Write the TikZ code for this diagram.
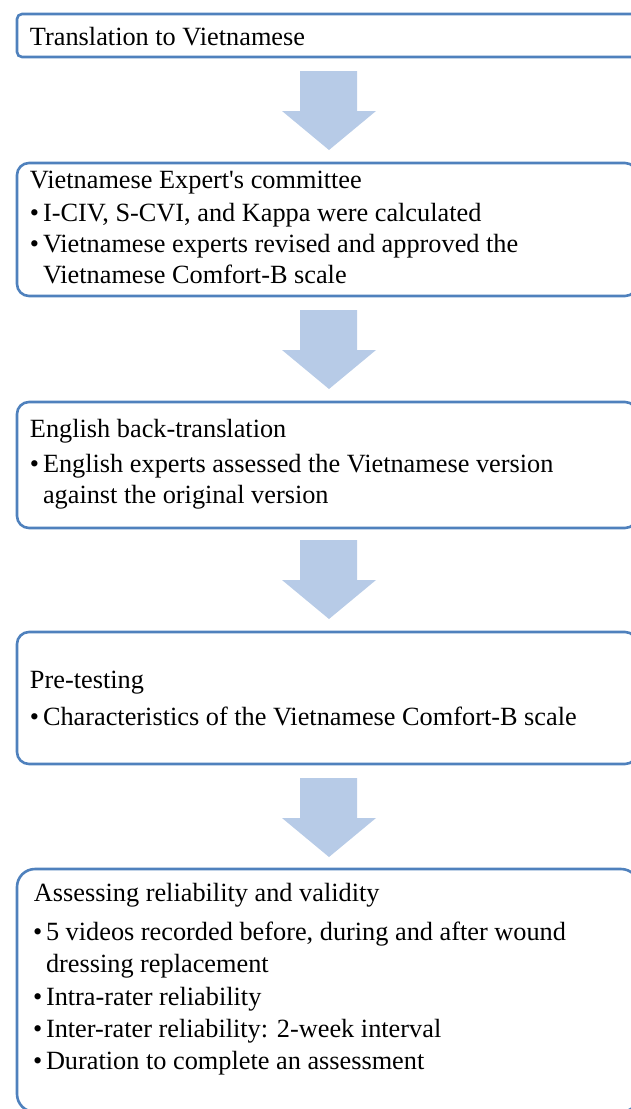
\documentclass[tikz,border=0pt]{standalone}
\usepackage{fontspec}
\setmainfont{Liberation Serif}
\definecolor{boxline}{HTML}{4F81BD}
\definecolor{arrowfill}{HTML}{B7CBE7}
\tikzset{
  stagebox/.style={draw=boxline, line width=2.6pt, fill=white, rounded corners=#1,
    anchor=north west, inner sep=0pt, outer sep=0pt},
  txt/.style={anchor=base west, inner sep=0pt, outer sep=0pt,
    font=\fontsize{26.3}{31.6}\selectfont},
  flowarrow/.style={fill=arrowfill, draw=none},
}
\begin{document}
\begin{tikzpicture}[x=1pt,y=-1pt]
\useasboundingbox (0,0) rectangle (631,1109);
\clip (0,0) rectangle (631,1109);

% boxes
\node[stagebox=5pt, minimum width=628pt, minimum height=43pt] (b1) at (17,14) {};
\node[stagebox=12pt, minimum width=620pt, minimum height=133pt] (b2) at (17,163) {};
\node[stagebox=12pt, minimum width=620pt, minimum height=126pt] (b3) at (17,402) {};
\node[stagebox=12pt, minimum width=620pt, minimum height=132pt] (b4) at (17,632) {};
\node[stagebox=18pt, minimum width=622pt, minimum height=243pt] (b5) at (17,869) {};

% block arrows between boxes
\foreach \t in {71,310,540,778}{
  \fill[flowarrow] (300,\t) -- (357,\t) -- (357,\t+40) -- (376,\t+40)
    -- (329,\t+79) -- (282,\t+40) -- (300,\t+40) -- cycle;
}

% box 1
\node[txt] (t1) at (30,45) {Translation to Vietnamese};

% box 2
\node[txt] (t2) at (30,188) {Vietnamese Expert\textquotesingle s committee};
\node[txt] (t2b1) at (30,221) {\textbullet};
\node[txt] (t2a) at (43,221) {I-CIV, S-CVI, and Kappa were calculated};
\node[txt] (t2b2) at (30,252) {\textbullet};
\node[txt] (t2c) at (43,252) {Vietnamese experts revised and approved the};
\node[txt] (t2d) at (43,283) {Vietnamese Comfort-B scale};

% box 3
\node[txt] (t3) at (30,437) {English back-translation};
\node[txt] (t3b1) at (30,472) {\textbullet};
\node[txt] (t3a) at (43,472) {English experts assessed the Vietnamese version};
\node[txt] (t3b) at (43,503) {against the original version};

% box 4
\node[txt] (t4) at (30,688) {Pre-testing};
\node[txt] (t4b1) at (30,725) {\textbullet};
\node[txt] (t4a) at (43,725) {Characteristics of the Vietnamese Comfort-B scale};

% box 5
\node[txt] (t5) at (34,901) {Assessing reliability and validity};
\node[txt] (t5b1) at (33,940) {\textbullet};
\node[txt] (t5a) at (46,940) {5 videos recorded before, during and after wound};
\node[txt] (t5b) at (46,972) {dressing replacement};
\node[txt] (t5b2) at (33,1005) {\textbullet};
\node[txt] (t5c) at (46,1005) {Intra-rater reliability};
\node[txt] (t5b3) at (33,1037) {\textbullet};
\node[txt] (t5d) at (46,1037) {Inter-rater reliability: 2-week interval};
\node[txt] (t5b4) at (33,1069) {\textbullet};
\node[txt] (t5e) at (46,1069) {Duration to complete an assessment};
\end{tikzpicture}
\end{document}
